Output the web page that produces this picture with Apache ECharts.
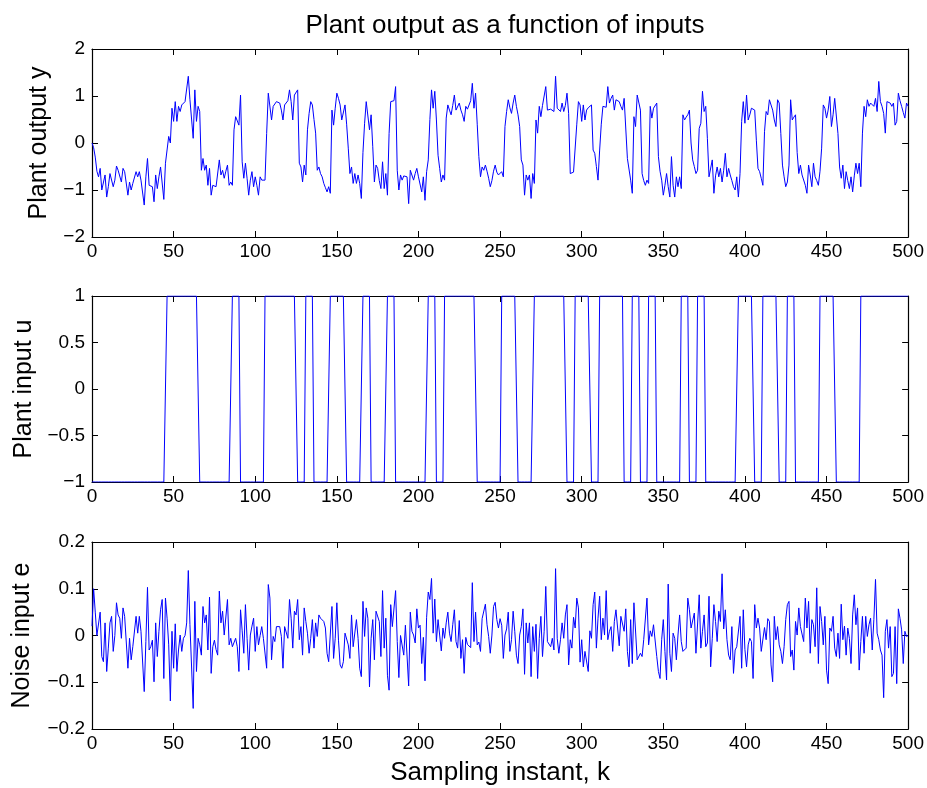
<!DOCTYPE html>
<html>
<head>
<meta charset="utf-8">
<script src="https://cdn.jsdelivr.net/npm/echarts@6/dist/echarts.min.js"></script>
<style>
html,body{margin:0;padding:0;background:#fff;}
#c{width:927px;height:788px;}
</style>
</head>
<body>
<div id="c"></div>
<script>
// ---- DATA ----
const titleText = 'Plant output as a function of inputs';
const xLabel = 'Sampling instant, k';
const yLabels = ['Plant output y', 'Plant input u', 'Noise input e'];
const kMax = 500;

// plant output y, k = 0..500
const yValues = [
0.00,-0.10,-0.30,-0.60,-0.72,-0.54,-1.00,-0.97,-0.68,-1.15,
-0.93,-0.65,-0.61,-0.93,-0.79,-0.49,-0.58,-0.61,-0.83,-0.54,
-0.61,-0.65,-1.11,-0.83,-1.00,-0.86,-0.90,-0.61,-0.72,-0.61,
-0.79,-0.83,-1.32,-0.72,-0.33,-0.90,-0.92,-0.93,-1.25,-0.68,
-0.97,-0.72,-0.51,-0.47,-1.20,-0.43,-0.47,0.14,0.00,0.74,
0.46,0.88,0.46,0.78,0.67,0.81,0.85,0.88,0.92,1.42,
0.92,0.88,0.10,1.13,0.46,0.78,0.67,-0.58,-0.33,-0.58,
-0.47,-0.90,-0.54,-1.11,-0.90,-0.92,-0.93,-0.97,-0.36,-0.68,
-0.58,-0.75,-0.60,-0.47,-0.90,-0.83,-0.90,0.28,0.56,0.60,
0.38,1.02,-0.40,-0.75,-0.43,-0.75,-1.11,-0.79,-0.61,-0.93,
-0.72,-0.90,-1.11,-0.72,-0.79,-0.83,-0.79,0.20,1.06,1.02,
0.49,0.78,0.74,0.88,0.86,0.85,0.70,0.49,0.81,0.78,
0.90,1.13,0.88,0.49,1.02,1.02,1.13,-0.43,-0.51,-0.83,
-0.47,-0.68,0.28,0.63,0.88,0.81,0.50,0.21,-0.58,-0.51,
-0.65,-0.72,-0.86,-0.95,-1.04,-0.93,-1.07,0.70,0.38,0.74,
1.06,0.95,0.81,0.49,0.49,0.81,0.40,-0.11,-0.65,-0.51,
-0.86,-0.65,-0.86,-0.68,-0.86,-1.18,-0.20,0.42,0.88,0.85,
0.28,0.60,-0.08,-0.83,-0.47,-0.54,-0.80,-0.97,-0.40,-0.97,
-0.65,-1.11,0.20,0.88,0.85,0.90,1.20,-0.58,-1.00,-0.68,
-0.79,-0.70,-0.68,-0.72,-1.29,-0.58,-0.62,-0.79,-0.65,-0.54,
-0.72,-0.70,-1.04,-0.72,-1.22,-0.61,-0.36,0.50,1.13,0.74,
1.10,0.49,-0.26,-0.54,-0.83,-0.68,-0.79,0.53,0.81,0.70,
0.60,0.80,1.02,0.70,0.67,0.85,0.70,0.60,0.46,0.78,
0.72,0.70,0.90,1.27,0.74,1.06,0.40,-0.29,-0.72,-0.51,
-0.58,-0.47,-0.60,-0.75,-0.93,-0.80,-0.60,-0.47,-0.62,-0.68,
-0.65,-0.61,-0.72,0.35,0.67,0.92,0.75,0.63,0.85,1.02,
0.78,0.60,0.35,-0.36,-0.47,-1.11,-0.68,-0.79,-0.68,-1.18,
-0.65,-0.86,0.49,0.21,0.78,0.56,0.80,1.00,1.20,0.70,
0.74,0.72,0.70,0.67,1.42,0.74,0.70,0.67,0.85,0.67,
0.80,1.06,0.63,-0.65,-0.65,-0.62,-0.58,0.40,0.88,0.81,
0.46,0.81,0.49,0.70,0.75,0.78,0.81,-0.15,-0.22,-0.50,
-0.79,-0.15,0.40,0.78,0.74,0.76,1.20,0.85,0.95,1.02,
0.70,0.92,0.90,0.88,0.78,0.70,0.95,0.99,-0.33,-0.33,
-0.79,-1.07,0.56,0.35,1.02,1.06,0.70,-0.65,-0.80,-0.90,
-0.79,-0.86,0.78,0.53,0.74,0.70,0.85,-0.29,-0.60,-0.79,
-1.11,-0.90,-0.65,-0.93,-1.15,-0.29,-0.90,-1.15,-0.72,-0.93,
-0.72,-0.97,0.60,0.49,0.55,0.60,0.70,0.00,-0.36,-0.50,
-0.65,-0.58,0.31,0.42,1.10,0.67,0.78,0.10,-0.72,-0.72,
-0.36,-1.07,-0.70,-0.51,-0.72,-0.54,-0.83,-0.58,-0.22,-0.72,
-0.54,-0.68,-0.80,-0.93,-1.00,-0.72,-1.15,-0.65,0.46,0.88,
0.42,1.02,0.49,0.60,0.74,0.72,0.70,0.06,-0.54,-0.61,
-0.75,-0.90,0.24,0.67,0.60,0.92,0.88,0.70,0.49,0.35,
0.92,0.85,0.20,-0.47,-0.72,-0.93,-0.83,-0.47,0.92,0.49,
0.55,0.60,-0.20,-0.65,-0.47,-0.68,-0.72,-0.90,-1.07,-0.47,
-0.68,-0.93,-0.43,-0.72,-0.80,-0.90,-0.60,-0.11,0.81,0.74,
0.53,0.70,0.99,0.35,0.60,0.95,0.92,0.20,-0.51,-0.75,
-0.47,-0.97,-0.61,-0.80,-0.97,-0.72,-1.04,-0.70,-0.43,-0.65,
-0.43,-0.93,0.21,0.78,0.56,0.92,0.78,0.85,0.88,0.78,
0.95,0.67,1.31,0.88,0.78,0.63,0.21,0.88,0.92,0.85,
0.78,0.85,0.38,0.46,1.06,0.90,0.78,0.65,0.53,0.85,
0.78
];

// plant input u: starts at -1 and switches sign after each of these instants
const uInitial = -1;
const uSwitchAfter = [45,65,85,90,105,125,130,135,145,155,165,170,180,185,205,210,215,235,250,260,270,290,295,305,310,325,330,335,340,345,360,365,370,375,395,405,410,420,425,430,445,455,470];

// noise input e, k = 0..500
const eValues = [
0.02,0.10,0.05,0.00,0.00,0.05,-0.045,-0.056,0.027,-0.077,
-0.027,0.027,0.041,-0.034,0.00,0.07,0.044,0.037,-0.006,0.059,
0.041,0.037,-0.07,-0.006,-0.052,-0.024,-0.02,0.041,0.005,0.041,
0.009,0.005,-0.12,-0.013,0.103,-0.031,-0.024,-0.01,-0.099,0.027,
-0.045,0.009,0.055,0.077,-0.092,0.08,0.037,-0.02,-0.14,0.009,
-0.07,0.025,-0.077,-0.031,0.001,-0.034,-0.006,0.0,0.027,0.139,
0.023,0.027,-0.156,0.073,-0.077,-0.006,-0.02,-0.042,0.062,0.027,
0.044,-0.031,0.082,-0.081,-0.024,-0.01,-0.03,-0.042,0.095,0.027,
0.052,0.001,-0.002,0.077,-0.02,-0.006,-0.024,-0.024,-0.006,-0.024,
-0.077,0.055,0.01,-0.038,0.066,-0.006,-0.074,0.001,0.02,0.037,
-0.034,0.019,-0.02,0.0,0.019,-0.006,-0.002,-0.07,0.109,0.08,
-0.052,-0.002,-0.013,0.019,0.015,0.019,-0.002,-0.07,0.019,0.016,
-0.006,0.077,0.037,-0.027,0.052,0.044,0.077,-0.009,0.019,-0.042,
0.059,0.03,0.005,-0.038,-0.006,0.034,-0.027,0.027,-0.002,0.044,
0.037,0.037,0.03,0.016,-0.038,-0.056,-0.06,0.062,-0.049,-0.006,
0.07,-0.01,-0.063,-0.07,-0.056,0.005,0.001,-0.02,-0.049,0.044,
-0.024,-0.024,0.034,-0.006,-0.07,-0.088,0.073,-0.002,0.059,0.037,
-0.11,-0.006,0.034,-0.052,0.052,0.053,0.03,-0.045,0.096,-0.027,
0.037,-0.085,-0.117,0.066,0.019,0.016,0.096,-0.013,-0.09,0.0,
-0.002,-0.042,0.022,0.022,-0.108,0.05,0.009,0.001,-0.016,0.057,
0.016,0.022,-0.06,-0.004,-0.097,0.039,0.093,0.077,0.122,0.005,
0.078,-0.013,0.034,0.03,-0.033,0.016,-0.006,0.027,0.05,0.005,
-0.013,0.023,0.055,-0.013,-0.027,0.032,-0.049,-0.009,-0.081,-0.004,
-0.019,-0.02,-0.026,0.113,-0.013,0.05,-0.02,-0.014,-0.034,0.036,
0.034,0.067,0.023,-0.002,-0.038,0.001,0.062,0.071,0.034,0.016,
0.036,0.022,-0.049,0.001,0.014,0.05,-0.034,-0.009,0.052,0.009,
-0.042,-0.06,0.001,0.019,0.057,-0.083,0.027,-0.016,0.027,-0.088,
0.019,-0.034,0.024,-0.092,-0.006,0.041,-0.045,0.009,0.105,-0.013,
-0.016,-0.024,-0.006,-0.031,0.143,-0.006,-0.038,-0.009,0.027,-0.006,
0.044,0.066,-0.063,-0.009,-0.027,0.039,0.016,0.08,0.059,-0.057,
-0.009,-0.067,-0.034,-0.038,-0.077,0.01,-0.006,0.066,0.093,-0.027,
0.037,0.084,-0.009,0.037,0.001,0.096,-0.009,0.009,0.019,-0.034,
0.03,0.055,0.055,-0.022,0.041,0.041,0.009,0.057,-0.034,-0.067,
0.034,-0.06,0.07,0.072,-0.052,-0.05,-0.038,-0.045,-0.009,-0.009,
0.08,-0.02,0.01,-0.002,0.023,0.027,-0.045,-0.077,-0.092,-0.009,
0.034,-0.034,-0.095,0.11,-0.038,-0.077,0.005,-0.006,-0.052,0.001,
0.044,-0.013,-0.034,-0.034,-0.027,0.08,0.055,0.016,0.019,0.048,
-0.038,-0.042,0.087,-0.027,0.009,0.044,-0.024,-0.016,0.084,-0.067,
-0.006,0.066,0.03,-0.013,0.052,0.03,0.132,0.014,0.055,-0.009,
-0.042,-0.052,0.019,-0.081,-0.031,-0.024,-0.027,0.041,-0.07,0.055,
-0.03,-0.067,-0.02,-0.006,-0.013,-0.092,0.066,0.016,0.037,0.016,
-0.034,-0.038,0.017,-0.009,0.036,0.03,-0.063,-0.099,0.041,-0.009,
0.019,-0.02,-0.034,-0.06,-0.024,0.034,0.066,0.073,-0.045,-0.031,
-0.074,0.03,0.001,0.059,0.019,0.016,-0.013,0.08,0.016,0.073,
-0.038,0.034,0.023,-0.024,0.102,-0.06,0.062,0.03,-0.02,0.041,
-0.074,-0.103,0.016,0.009,0.041,-0.027,-0.045,0.005,-0.049,0.067,
-0.009,0.02,-0.042,0.016,-0.006,-0.06,0.044,0.087,0.023,0.059,
-0.074,-0.013,0.041,-0.038,0.041,-0.002,0.023,0.037,-0.031,0.034,
0.12,0.005,-0.009,-0.031,-0.042,-0.133,0.009,0.034,-0.027,0.019,
-0.088,-0.081,0.019,-0.103,0.057,0.037,0.012,-0.06,0.009,-0.002,
0.0
];

// axis ranges / ticks
const xTicks = {min: 0, max: 500, interval: 50};
const yRanges = [
  {min: -2, max: 2, interval: 1},
  {min: -1, max: 1, interval: 0.5},
  {min: -0.2, max: 0.2, interval: 0.1}
];

// ---- build series data ----
const uValues = [];
{
  let v = uInitial, s = 0;
  for (let k = 0; k <= kMax; k++) {
    uValues.push(v);
    if (s < uSwitchAfter.length && k === uSwitchAfter[s]) { v = -v; s++; }
  }
}
const toPairs = arr => arr.map((v, k) => [k, v]);
const seriesData = [toPairs(yValues), toPairs(uValues), toPairs(eValues)];

// ---- layout ----
const FONT = "'Liberation Sans', Arial, Helvetica, sans-serif";
const grids = [
  {left: 92, top: 49, width: 817, height: 188},
  {left: 92, top: 296, width: 817, height: 186},
  {left: 92, top: 542, width: 817, height: 187}
];
const yNameGaps = [40, 55, 57];

const fmt = v => String(+(+v).toFixed(2)).replace('-', '\u2212');
const lineBlack = {show: true, onZero: false, lineStyle: {color: '#000', width: 1.2}};
const tickIn = {show: true, inside: true, length: 6, lineStyle: {color: '#000', width: 1}};

const xAxes = [], yAxes = [], series = [];
grids.forEach((g, i) => {
  xAxes.push({
    type: 'value', gridIndex: i, position: 'bottom', min: xTicks.min, max: xTicks.max, interval: xTicks.interval,
    axisLine: lineBlack, axisTick: tickIn, splitLine: {show: false},
    axisLabel: {color: '#000', fontSize: 19, fontFamily: FONT, margin: 5, formatter: fmt},
    name: i === 2 ? xLabel : '', nameLocation: 'middle', nameGap: 31,
    nameTextStyle: {color: '#000', fontSize: 26, fontFamily: FONT}
  });
  xAxes.push({
    type: 'value', gridIndex: i, position: 'top', min: xTicks.min, max: xTicks.max, interval: xTicks.interval,
    axisLine: lineBlack, axisTick: tickIn, splitLine: {show: false}, axisLabel: {show: false}
  });
  const r = yRanges[i];
  yAxes.push({
    type: 'value', gridIndex: i, position: 'left', min: r.min, max: r.max, interval: r.interval,
    axisLine: lineBlack, axisTick: tickIn, splitLine: {show: false},
    axisLabel: {color: '#000', fontSize: 19, fontFamily: FONT, margin: 7, formatter: fmt},
    name: yLabels[i], nameLocation: 'middle', nameGap: yNameGaps[i], nameRotate: 90,
    nameTextStyle: {color: '#000', fontSize: 25, fontFamily: FONT}
  });
  yAxes.push({
    type: 'value', gridIndex: i, position: 'right', min: r.min, max: r.max, interval: r.interval,
    axisLine: lineBlack, axisTick: tickIn, splitLine: {show: false}, axisLabel: {show: false}
  });
  series.push({
    type: 'line', xAxisIndex: 2 * i, yAxisIndex: 2 * i, data: seriesData[i],
    showSymbol: false, symbol: 'none', lineStyle: {color: '#0000ff', width: 1}, itemStyle: {color: '#0000ff'},
    animation: false, z: 1
  });
});

const chart = echarts.init(document.getElementById('c'), null, {renderer: 'canvas'});
chart.setOption({
  backgroundColor: '#fff',
  animation: false,
  title: {text: titleText, left: 500, textAlign: 'center', top: 8,
    textStyle: {color: '#000', fontSize: 26, fontWeight: 'normal', fontFamily: FONT}},
  grid: grids,
  xAxis: xAxes,
  yAxis: yAxes,
  series: series
});
</script>
</body>
</html>
